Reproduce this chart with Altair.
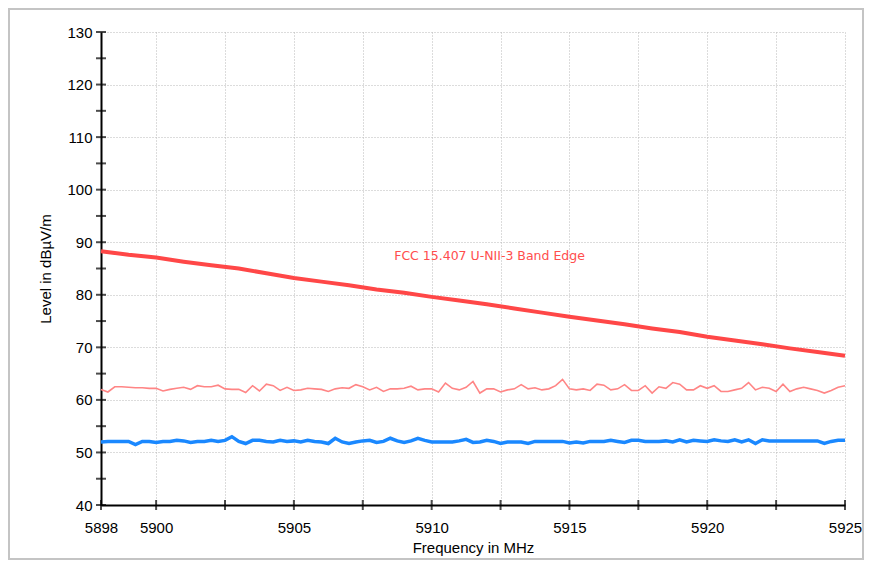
import altair as alt
import pandas as pd

x_start = 5898.0
x_step = 0.25

pink = [62.0, 61.5, 62.5, 62.5, 62.4, 62.3, 62.3, 62.2, 62.2, 61.7,
        62.0, 62.2, 62.4, 62.0, 62.7, 62.5, 62.5, 62.8, 62.1, 62.0,
        62.0, 61.4, 62.7, 61.7, 63.0, 62.7, 61.8, 62.4,
        61.8, 61.9, 62.2, 62.1, 62.0, 61.6, 62.1, 62.3, 62.2, 62.9,
        62.5, 61.9, 62.4, 61.6, 62.1, 62.1, 62.2, 62.6, 61.9, 62.1,
        62.1, 61.5, 63.2, 62.2, 61.9, 62.4, 63.5,
        61.3, 62.1, 62.1, 61.5, 61.9, 62.1, 62.9, 62.1, 62.3, 61.9,
        62.1, 62.7, 63.9, 62.1, 61.9, 62.1, 61.8, 63.0, 62.8, 61.9,
        62.1, 62.9, 61.8, 61.8, 62.7, 61.3, 62.5,
        62.2, 63.3, 63.0, 61.9, 61.9, 62.7, 62.2, 62.7, 61.6, 61.6,
        61.9, 62.2, 63.3, 61.9, 62.4, 62.2, 61.6, 63.0, 61.6, 62.1,
        62.4, 62.1, 61.8, 61.3, 61.8, 62.4, 62.7]

blue = [52.0, 52.1, 52.1, 52.1, 52.1, 51.5, 52.1, 52.1, 51.9, 52.1,
        52.1, 52.3, 52.2, 51.9, 52.1, 52.1, 52.3, 52.1, 52.3, 53.0,
        52.1, 51.7, 52.3, 52.3, 52.1, 52.0, 52.3, 52.1,
        52.2, 52.0, 52.3, 52.1, 52.0, 51.7, 52.7, 52.0, 51.7, 52.0,
        52.2, 52.3, 51.9, 52.1, 52.7, 52.2, 51.9, 52.2, 52.7, 52.3,
        52.0, 52.0, 52.0, 52.0, 52.2, 52.5, 51.9,
        52.0, 52.3, 52.1, 51.7, 52.0, 52.0, 52.0, 51.7, 52.1, 52.1,
        52.1, 52.1, 52.1, 51.8, 52.0, 51.8, 52.1, 52.1, 52.1, 52.3,
        52.1, 51.9, 52.3, 52.3, 52.1, 52.1, 52.1,
        52.2, 52.0, 52.4, 52.0, 52.3, 52.2, 52.1, 52.4, 52.2, 52.1,
        52.4, 52.0, 52.4, 51.7, 52.4, 52.2, 52.2, 52.2, 52.2, 52.2,
        52.2, 52.2, 52.2, 51.7, 52.1, 52.3, 52.3]

limit_freq = [5898, 5899, 5900, 5901, 5902, 5903, 5904, 5905, 5906, 5907,
              5908, 5909, 5910, 5911, 5912, 5913, 5914, 5915, 5916, 5917,
              5918, 5919, 5920, 5921, 5922, 5923, 5924, 5925]
limit_val = [88.3, 87.6, 87.1, 86.3, 85.6, 85.0, 84.1, 83.2, 82.5, 81.8,
             81.0, 80.4, 79.6, 78.9, 78.2, 77.4, 76.6, 75.8, 75.1, 74.4,
             73.6, 72.9, 72.0, 71.3, 70.6, 69.8, 69.1, 68.4]

y_ticks = [40, 45, 50, 55, 60, 65, 70, 75, 80, 85, 90, 95, 100, 105, 110, 115, 120, 125, 130]
x_ticks = [5898, 5900, 5902.5, 5905, 5907.5, 5910, 5912.5, 5915, 5917.5, 5920, 5922.5, 5925]

annot_text = ["FCC 15.407 U-NII-3 Band Edge"]
annot_x = [5912.1]
annot_y = [87.3]

freqs = [x_start + x_step * i for i in range(len(pink))]
trace_df = pd.DataFrame({"f": freqs, "pink": pink, "blue": blue})
limit_df = pd.DataFrame({"f": limit_freq, "v": limit_val})
ytick_df = pd.DataFrame({"v": y_ticks, "f": [x_ticks[0]] * len(y_ticks)})
xtick_df = pd.DataFrame({"f": x_ticks, "v": [y_ticks[0]] * len(x_ticks)})
annot_df = pd.DataFrame({"t": annot_text, "f": annot_x, "v": annot_y})

FONT = "Liberation Sans"

xscale = alt.Scale(domain=[5898, 5925], nice=False, zero=False)
yscale = alt.Scale(domain=[40, 130], nice=False, zero=False)

xaxis = alt.Axis(values=x_ticks, format="d",
                 labelExpr="(datum.value % 5 == 0 || datum.value == 5898) ? datum.label : ''",
                 title="Frequency in MHz", ticks=False, labelPadding=15, titlePadding=5,
                 labelFlush=False, labelOverlap=False, labelBound=False)
yaxis = alt.Axis(values=y_ticks, format="d",
                 labelExpr="datum.value % 10 == 0 ? datum.label : ''",
                 title="Level in dBµV/m", ticks=False, labelPadding=9, titlePadding=13,
                 labelFlush=False, labelOverlap=False)

base_x = alt.X("f:Q", scale=xscale, axis=xaxis)

pink_line = alt.Chart(trace_df).mark_line(color="#ff8585", strokeWidth=1.6).encode(
    x=base_x, y=alt.Y("pink:Q", scale=yscale, axis=yaxis))
blue_line = alt.Chart(trace_df).mark_line(color="#1a88ff", strokeWidth=3.5).encode(
    x=alt.X("f:Q", scale=xscale), y=alt.Y("blue:Q", scale=yscale))
limit_line = alt.Chart(limit_df).mark_line(color="#ff4747", strokeWidth=4).encode(
    x=alt.X("f:Q", scale=xscale), y=alt.Y("v:Q", scale=yscale))

yt = alt.Chart(ytick_df).mark_tick(orient="horizontal", size=10, thickness=2, color="black").encode(
    x=alt.X("f:Q", scale=xscale), y=alt.Y("v:Q", scale=yscale))
xt = alt.Chart(xtick_df).mark_tick(orient="vertical", size=10, thickness=2, color="black").encode(
    x=alt.X("f:Q", scale=xscale), y=alt.Y("v:Q", scale=yscale))

annot = alt.Chart(annot_df).mark_text(font="DejaVu Sans", fontSize=12.5, color="#ff4d4d").encode(
    x=alt.X("f:Q", scale=xscale), y=alt.Y("v:Q", scale=yscale), text="t:N")

frame = alt.Chart(pd.DataFrame({"a": [0]})).mark_rect(
    fillOpacity=0, stroke="#c4c4c4", strokeWidth=2).encode(
    x=alt.value(-92), x2=alt.value(744 + 18), y=alt.value(-23), y2=alt.value(473 + 54))

chart = alt.layer(pink_line, blue_line, limit_line, yt, xt, annot, frame).properties(
    width=744, height=473,
    autosize=alt.AutoSizeParams(type="none"),
    padding={"left": 93, "top": 24, "right": 19, "bottom": 55},
    background="white",
).configure_view(stroke=None).configure_axis(
    domainColor="black", domainWidth=2,
    grid=True, gridColor="#b8b8b8", gridDash=[1, 2], gridWidth=1,
    labelFont=FONT, labelFontSize=15, labelColor="black",
    titleFont=FONT, titleFontSize=15, titleFontWeight="normal", titleColor="black",
)

chart.save("out.html", embed_options={"renderer": "svg", "actions": False})
